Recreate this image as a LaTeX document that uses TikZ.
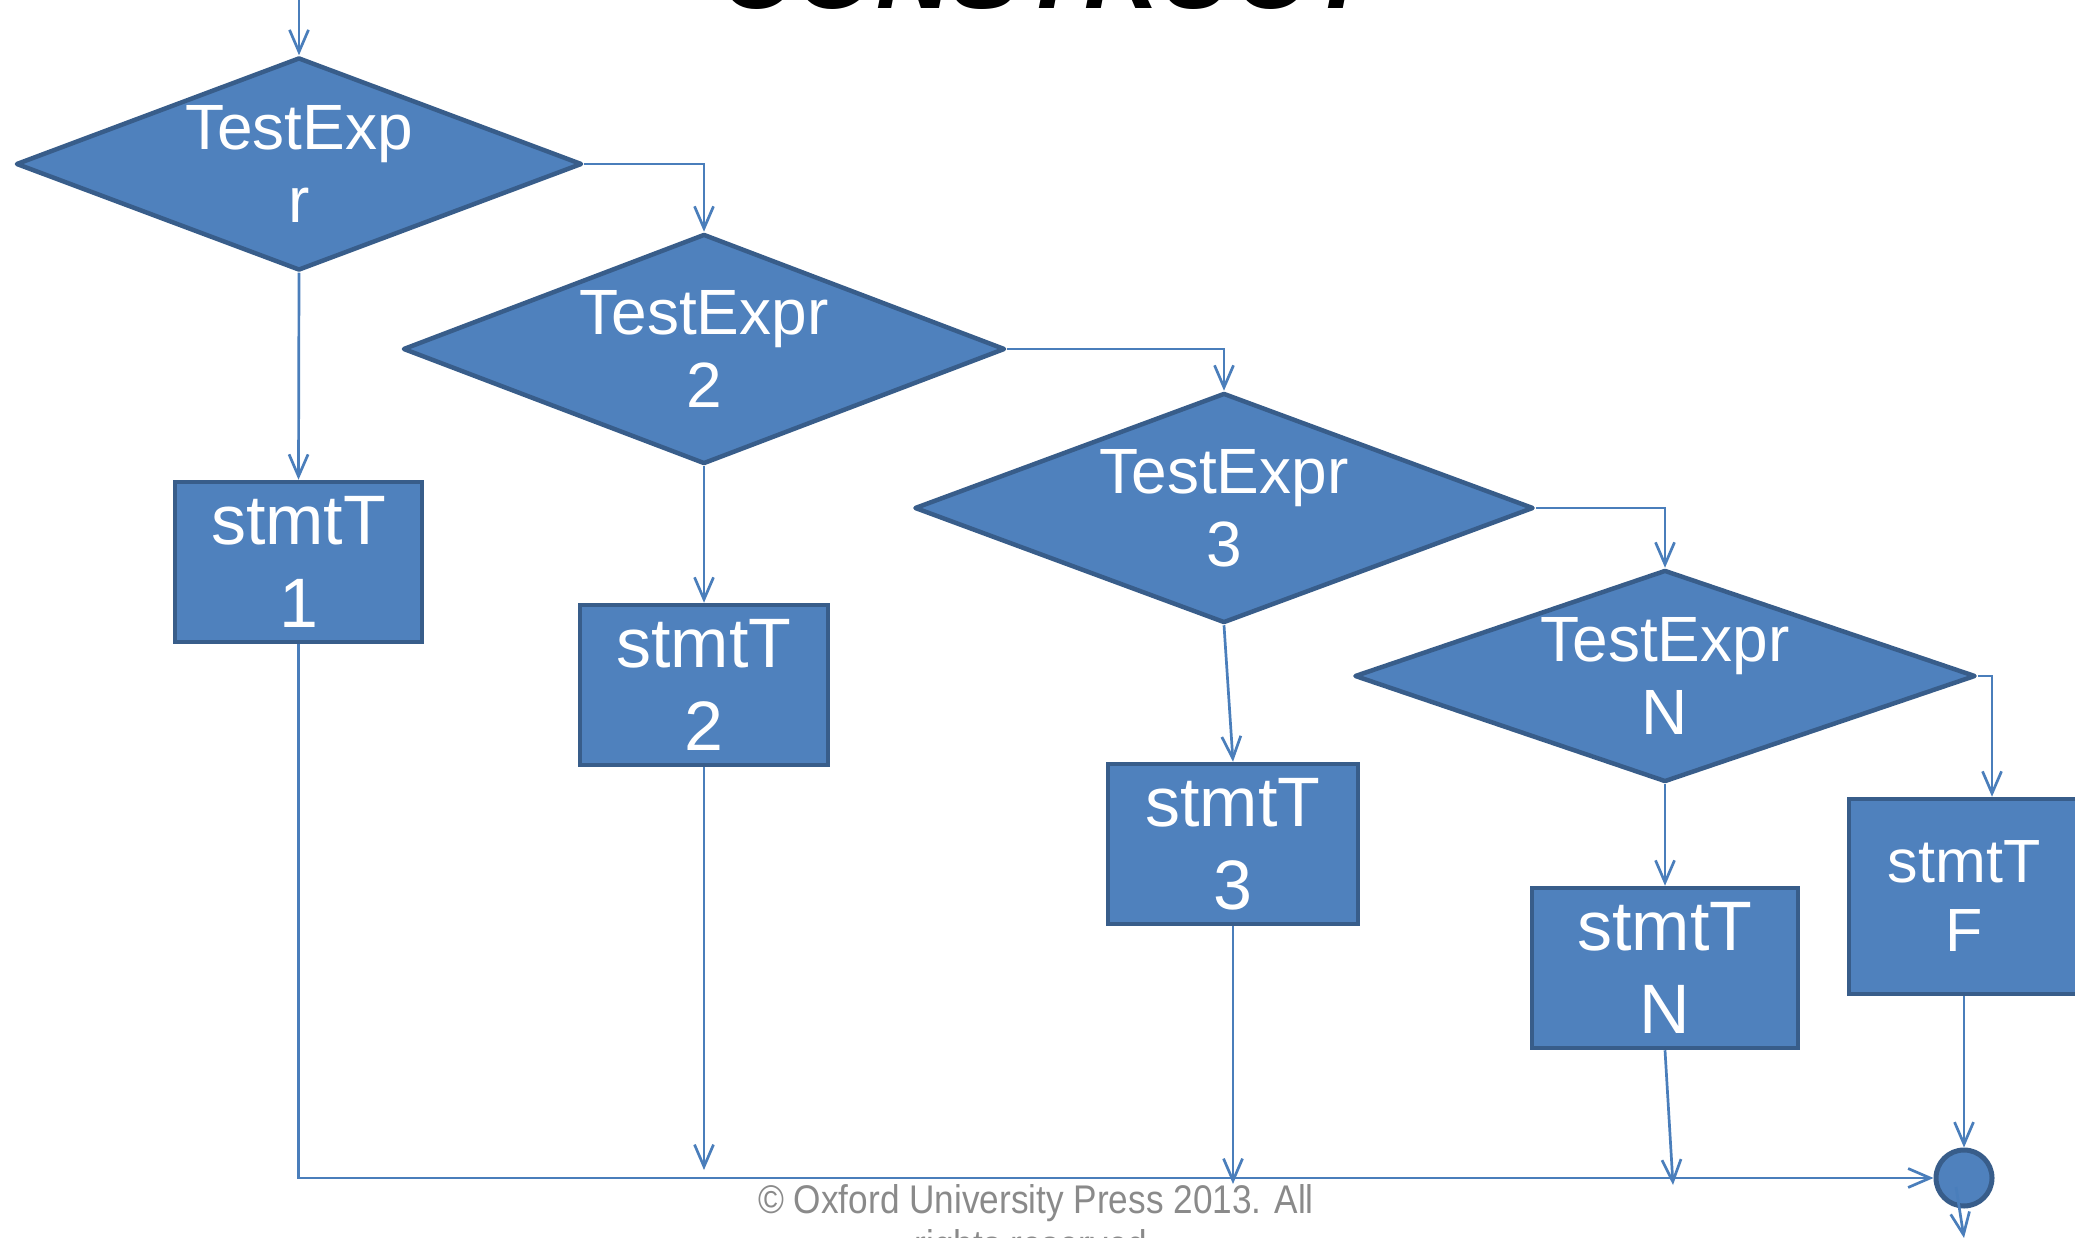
\documentclass[tikz,border=0pt]{standalone}
\usepackage{fontspec}
\usepackage{graphicx}
\setmainfont{Liberation Sans}
\usetikzlibrary{shapes.geometric,arrows.meta}
\definecolor{shapefill}{HTML}{4F81BD}
\definecolor{shapeline}{HTML}{385D8A}
\definecolor{flowline}{HTML}{4A7EBB}
\definecolor{notegray}{HTML}{8A8A8A}

\begin{document}
\begin{tikzpicture}[x=1pt,y=-1pt,
  decision/.style={diamond, draw=shapeline, fill=shapefill, line width=4.5pt,
    inner sep=0pt, line join=round},
  stmtbox/.style={rectangle, draw=shapeline, fill=shapefill, line width=4.5pt,
    inner sep=0pt, minimum height=160pt},
  joinpt/.style={circle, draw=shapeline, fill=shapefill, line width=5pt,
    inner sep=0pt, minimum size=56pt},
  dtext/.style={text=white, inner sep=0pt, align=center,
    font=\fontsize{64}{73}\selectfont},
  btext/.style={text=white, inner sep=0pt, align=center,
    font=\fontsize{70}{83}\selectfont},
  ftext/.style={text=white, inner sep=0pt, align=center,
    font=\fontsize{61}{69}\selectfont},
  flow/.style={draw=flowline, line width=2.7pt,
    -{Straight Barb[length=22pt,width=19pt]}},
  note/.style={text=notegray, inner sep=0pt, anchor=base,
    font=\fontsize{40}{48}\selectfont},
]
\useasboundingbox (0,0) rectangle (2075,1238);

% heading (only its lower edge lies inside the page)
\node[inner sep=0pt, anchor=base west, font=\fontsize{104}{116}\selectfont\bfseries\itshape]
  (title) at (720,9) {CONSTRUCT};

% decisions
\node[decision, minimum width=566pt, minimum height=213pt] (d1) at (299,164) {};
\node[decision, minimum width=602pt, minimum height=230pt] (d2) at (704,349) {};
\node[decision, minimum width=619pt, minimum height=230pt] (d3) at (1224,508) {};
\node[decision, minimum width=621pt, minimum height=212pt] (dn) at (1665,676) {};
\node[dtext] (d1t) at (d1) {TestExp\\r};
\node[dtext] (d2t) at (d2) {TestExpr\\2};
\node[dtext] (d3t) at (d3) {TestExpr\\3};
\node[dtext] (dnt) at (dn) {TestExpr\\N};

% statements
\node[stmtbox, minimum width=247pt] (b1) at (298.5,562) {};
\node[stmtbox, minimum width=248pt] (b2) at (704,685) {};
\node[stmtbox, minimum width=250pt] (b3) at (1233,844) {};
\node[stmtbox, minimum width=266pt] (bn) at (1665,968) {};
\node[stmtbox, minimum width=230pt, minimum height=195pt] (bf) at (1964,896.5) {};
\node[btext] (b1t) at (b1) {stmtT\\1};
\node[btext] (b2t) at (b2) {stmtT\\2};
\node[btext] (b3t) at (b3) {stmtT\\3};
\node[btext] (bnt) at (bn) {stmtT\\N};
\node[ftext] (bft) at (bf) {stmtT\\F};

% junction
\node[joinpt] (join) at (1964,1178) {};

% free ends
\coordinate (entry) at (299,0);
\coordinate (b2end) at (704,1170);
\coordinate (b3end) at (1233,1184);
\coordinate (bnend) at (1673,1185);
\coordinate (exitstart) at (1956,1187);
\coordinate (exit) at (1964,1238);

% connectors
\draw[flow] (entry) -- (d1.north);
\draw[flow] (d1.east) -| (d2.north);
\draw[flow] (d2.east) -| (d3.north);
\draw[flow] (d3.east) -| (dn.north);
\draw[flow] (dn.east) -| ([xshift=28pt]bf.north);
\draw[flow] (d1.south) -- (b1.north);
\draw[flow] (d2.south) -- (b2.north);
\draw[flow] (d3.south) -- (b3.north);
\draw[flow] (dn.south) -- (bn.north);
\draw[flow] (b1.south) |- (join.west);
\draw[flow] (b2.south) -- (b2end);
\draw[flow] (b3.south) -- (b3end);
\draw[flow] (bn.south) -- (bnend);
\draw[flow] (bf.south) -- (join.north);
\draw[flow] (exitstart) -- (exit);

% footer
\node[note] (copy1) at (1036,1213) {\scalebox{0.88}[1]{© Oxford University Press 2013. All}};
\node[note] (copy2) at (1036,1258) {\scalebox{0.88}[1]{rights reserved.}};
\end{tikzpicture}
\end{document}
